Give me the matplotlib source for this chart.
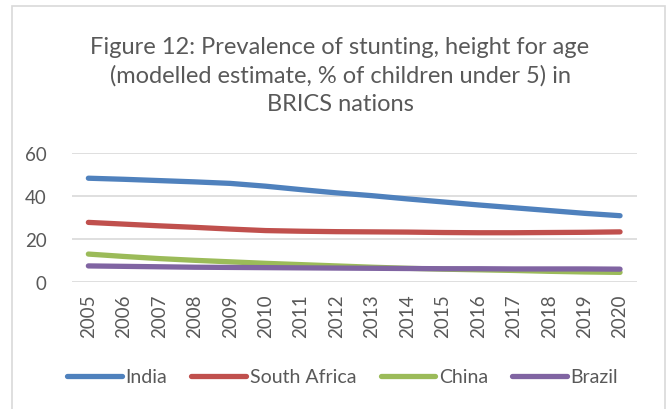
import numpy as np
import matplotlib.pyplot as plt
from matplotlib.patches import Rectangle

plt.rcParams['font.family'] = 'Lato'

years = list(range(2005, 2021))
india = [48.3, 47.8, 47.2, 46.6, 45.9, 44.6, 43.0, 41.5, 40.2, 38.7, 37.3, 35.9, 34.6, 33.3, 32.0, 30.9]
south_africa = [27.8, 27.0, 26.2, 25.5, 24.7, 24.0, 23.7, 23.5, 23.4, 23.3, 23.1, 23.0, 23.0, 23.1, 23.2, 23.4]
china = [13.1, 12.0, 11.0, 10.2, 9.5, 8.8, 8.2, 7.6, 7.0, 6.5, 6.1, 5.8, 5.5, 5.1, 4.8, 4.6]
brazil = [7.6, 7.4, 7.2, 7.0, 6.9, 6.8, 6.7, 6.6, 6.5, 6.4, 6.3, 6.3, 6.2, 6.2, 6.2, 6.1]

series = [('India', india, '#4F81BD'),
          ('South Africa', south_africa, '#C0504D'),
          ('China', china, '#9BBB59'),
          ('Brazil', brazil, '#8064A2')]

txt = '#595959'

fig = plt.figure(figsize=(6.68, 4.10), dpi=100)
# chart area border like excel
fig.patches.append(Rectangle((12/668, -0.05), 653/668, 1 - 7/410 + 0.05, transform=fig.transFigure,
                             fill=False, edgecolor='#d9d9d9', linewidth=1.2))

ax = fig.add_axes([71.7/668, 1 - 283.3/410, 565/668, 129.3/410])

for name, vals, col in series:
    ax.plot(years, vals, color=col, linewidth=3.8, solid_capstyle='round', label=name)

ax.set_xlim(2004.53, 2020.47)
ax.set_ylim(0, 60)
ax.set_yticks([0, 20, 40, 60])
ax.set_xticks(years)
ax.set_xticklabels([str(y) for y in years], rotation=90)
ax.yaxis.grid(True, color='#d9d9d9', linewidth=1.2)
ax.set_axisbelow(True)
for s in ax.spines.values():
    s.set_visible(False)
ax.tick_params(length=0, labelsize=13.5, colors=txt, pad=8)
ax.tick_params(axis='y', pad=18)

fig.text(0.509, 1 - 76/410, 'Figure 12: Prevalence of stunting, height for age\n'
         '(modelled estimate, % of children under 5) in\nBRICS nations',
         ha='center', va='center', fontsize=17, color=txt, linespacing=1.44)

leg = fig.legend(loc='center', bbox_to_anchor=(0.513, 1 - 378/410), ncol=4, frameon=False,
                 fontsize=14, handlelength=2.8, handletextpad=0.2, columnspacing=1.25)
for t in leg.get_texts():
    t.set_color(txt)

plt.savefig('out.png', dpi=100)
